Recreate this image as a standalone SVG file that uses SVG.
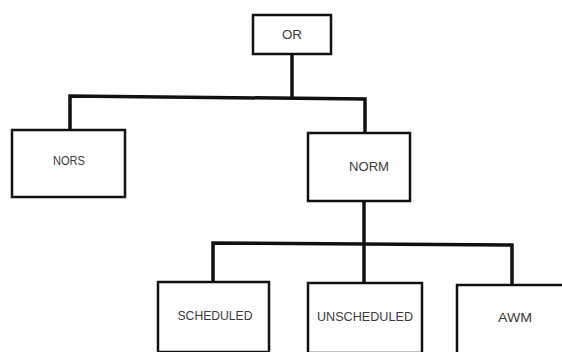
<svg xmlns="http://www.w3.org/2000/svg" width="562" height="352" viewBox="0 0 562 352">
<style>
.box{fill:#fff;stroke:#111;stroke-width:2.5}
.lbl{font-family:"Liberation Sans","DejaVu Sans",sans-serif;font-size:13px;fill:#3a3a3a;text-anchor:middle;dominant-baseline:central}
.conn{fill:none;stroke:#111;stroke-width:3.5;stroke-linejoin:miter}
</style>
<rect width="562" height="352" fill="#fff"/>
<g id="connectors">
<path class="conn" d="M292 54 V97"/>
<path class="conn" d="M70 130 V96 L365 99 V133"/>
<path class="conn" d="M364 201 V243"/>
<path class="conn" d="M213 282 V243 L512 245 V285"/>
<path class="conn" d="M364 243 V283"/>
</g>
<g id="OR"><rect class="box" x="253" y="15" width="78" height="39"/><text class="lbl" x="292" y="34" textLength="20" lengthAdjust="spacingAndGlyphs">OR</text></g>
<g id="NORS"><rect class="box" x="12" y="130" width="113" height="67"/><text class="lbl" x="69" y="160" textLength="32" lengthAdjust="spacingAndGlyphs">NORS</text></g>
<g id="NORM"><rect class="box" x="308" y="133" width="102" height="68"/><text class="lbl" x="369" y="166" textLength="40" lengthAdjust="spacingAndGlyphs">NORM</text></g>
<g id="SCHEDULED"><rect class="box" x="158" y="282" width="111" height="70"/><text class="lbl" x="215" y="315" textLength="75" lengthAdjust="spacingAndGlyphs">SCHEDULED</text></g>
<g id="UNSCHEDULED"><rect class="box" x="308" y="283" width="114" height="70"/><text class="lbl" x="365" y="316" textLength="96" lengthAdjust="spacingAndGlyphs">UNSCHEDULED</text></g>
<g id="AWM"><rect class="box" x="457" y="285" width="110" height="70"/><text class="lbl" x="515" y="317" textLength="34" lengthAdjust="spacingAndGlyphs">AWM</text></g>
</svg>
